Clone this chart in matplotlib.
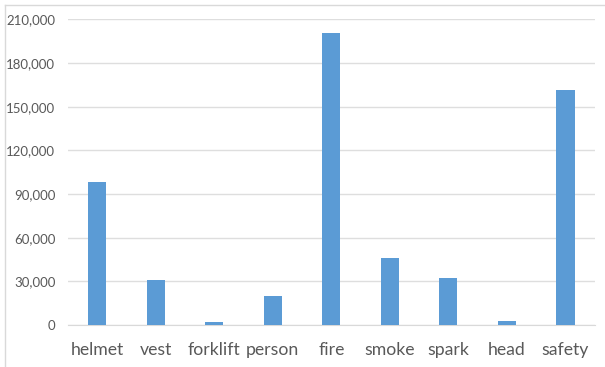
import matplotlib
matplotlib.use("Agg")
import matplotlib.pyplot as plt
from matplotlib.ticker import FuncFormatter, MultipleLocator
from matplotlib.lines import Line2D

categories = ["helmet", "vest", "forklift", "person", "fire", "smoke", "spark", "head", "safety"]
values = [98500, 30700, 2300, 19900, 201000, 45800, 32100, 3000, 161300]

plt.rcParams['font.family'] = ['Lato', 'DejaVu Sans']

fig = plt.figure(figsize=(6.05, 3.67), dpi=100)
ax = fig.add_axes([0.112, 0.1144, 0.871, 0.8325])

x = range(len(categories))
ax.bar(x, values, width=0.31, color="#5b9bd5", zorder=3)
ax.set_xlim(-0.5, len(categories) - 0.5)
ax.set_ylim(0, 210000)
ax.yaxis.set_major_locator(MultipleLocator(30000))
ax.yaxis.set_major_formatter(FuncFormatter(lambda v, p: f"{int(v):,}"))
ax.set_xticks(list(x))
ax.set_xticklabels(categories)
ax.grid(axis="y", color="#dedede", linewidth=1, zorder=0)
for s in ["top", "right", "left"]:
    ax.spines[s].set_visible(False)
ax.spines["bottom"].set_color("#d9d9d9")
ax.tick_params(axis="both", length=0, colors="#595959")
ax.tick_params(axis="x", labelsize=12.7, pad=12)
ax.tick_params(axis="y", labelsize=9.5, pad=9)

# light outer border (left and top)
fig.add_artist(Line2D([5/605, 5/605], [0, 1 - 5/367], color="#d9d9d9", linewidth=1, transform=fig.transFigure))
fig.add_artist(Line2D([5/605, 1], [1 - 5/367, 1 - 5/367], color="#d9d9d9", linewidth=1, transform=fig.transFigure))

fig.savefig("out.png", dpi=100)
